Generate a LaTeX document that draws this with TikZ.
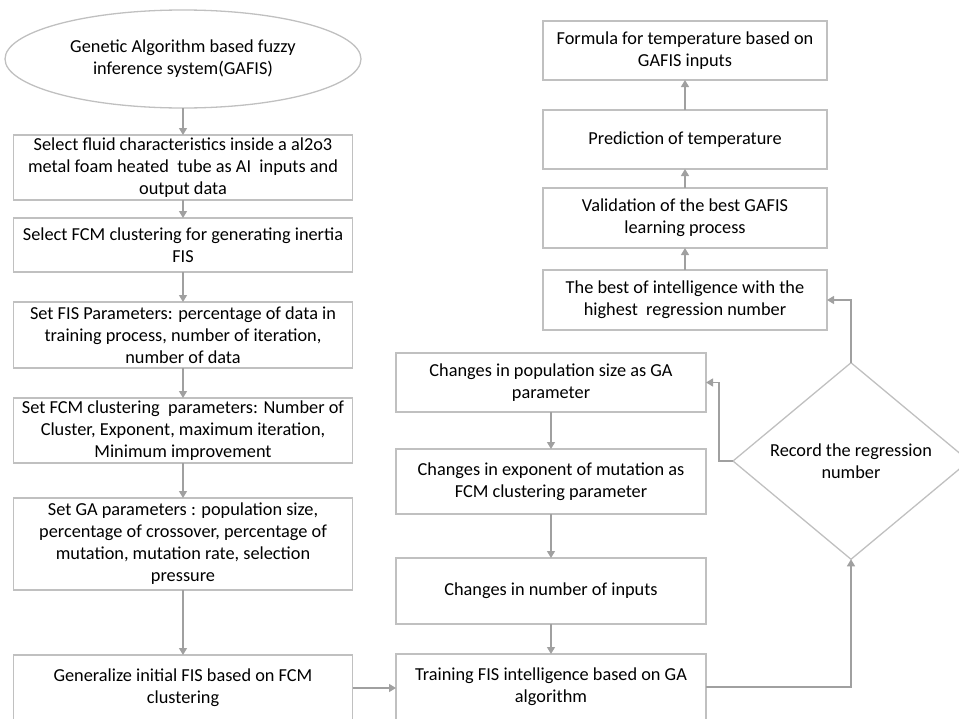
\documentclass[tikz,border=0pt]{standalone}
\usepackage{fontspec}
\setmainfont{Carlito}
\usepackage{xcolor}
\usetikzlibrary{positioning,arrows.meta,shapes.geometric}
\definecolor{boxline}{RGB}{192,192,192}
\definecolor{arrline}{RGB}{160,160,160}

\begin{document}
\begin{tikzpicture}[
  x=1pt, y=-1pt,
  font=\fontsize{18.3}{22}\selectfont,
  box/.style={draw=boxline, line width=1.3pt, align=center, inner xsep=3pt,
              inner ysep=1pt, outer sep=0pt, minimum width=#1},
  term/.style={draw=boxline, line width=1.3pt, ellipse, align=center,
               inner sep=0pt, outer sep=0pt, minimum width=356pt, minimum height=98pt},
  decide/.style={draw=boxline, line width=1.3pt, diamond, align=center,
                 inner sep=0pt, outer sep=0pt, minimum width=236pt, minimum height=166pt},
  link/.style={draw=arrline, line width=1.3pt, ->},
  >={Triangle[length=7pt,width=8pt]}
]
\useasboundingbox (0,0) rectangle (959,718);
\clip (0,0) rectangle (959,718);

\node[term] (ga) at (183,59) {Genetic Algorithm based fuzzy\\inference system(GAFIS)};
\node[box=339pt, minimum height=65pt, below=27pt of ga] (sel)
  {Select fluid characteristics inside a al2o3\\metal foam heated\ \ tube as AI\ \ inputs and\\output data};
\node[box=339pt, minimum height=54pt, below=18pt of sel] (fcm)
  {Select FCM clustering for generating inertia\\FIS};
\node[box=339pt, minimum height=66pt, below=30pt of fcm] (fis)
  {Set FIS Parameters: percentage of data in\\training process, number of iteration,\\number of data};
\node[box=339pt, minimum height=65pt, below=30pt of fis] (clu)
  {Set FCM clustering\ \ parameters: Number of\\Cluster, Exponent, maximum iteration,\\Minimum improvement};
\node[box=339pt, minimum height=92pt, below=35pt of clu] (gapar)
  {Set GA parameters : population size,\\percentage of crossover, percentage of\\mutation, mutation rate, selection\\pressure};
\node[box=339pt, minimum height=66pt, below=65pt of gapar] (gen)
  {Generalize initial FIS based on FCM\\clustering};

\node[box=310pt, minimum height=59pt] (pop) at (551,382.5)
  {Changes in population size as GA\\parameter};
\node[box=310pt, minimum height=65pt, below=37pt of pop] (expo)
  {Changes in exponent of mutation as\\FCM clustering parameter};
\node[box=310pt, minimum height=66pt, below=44pt of expo] (inp)
  {Changes in number of inputs};
\node[box=310pt, minimum height=66pt, below=30pt of inp] (train)
  {Training FIS intelligence based on GA\\algorithm};

\node[decide] (rec) at (851,461) {Record the regression\\number};

\node[box=284pt, minimum height=59pt] (form) at (685,50.5)
  {Formula for temperature based on\\GAFIS inputs};
\node[box=284pt, minimum height=59pt, below=30pt of form] (pred)
  {Prediction of temperature};
\node[box=284pt, minimum height=60pt, below=19pt of pred] (valid)
  {Validation of the best GAFIS\\learning process};
\node[box=284pt, minimum height=60pt, below=22pt of valid] (best)
  {The best of intelligence with the\\highest\ \ regression number};

\draw[link] (ga) -- (sel);
\draw[link] (sel) -- (fcm);
\draw[link] (fcm) -- (fis);
\draw[link] (fis) -- (clu);
\draw[link] (clu) -- (gapar);
\draw[link] (gapar) -- (gen);
\draw[link] (gen.east) -- (gen.east -| train.west);
\draw[link] (pop) -- (expo);
\draw[link] (expo) -- (inp);
\draw[link] (inp) -- (train);
\draw[link] (train.east) -| (rec.south);
\draw[link] (rec.north) |- (best.east);
\draw[link] (rec.west) -- ++(-14,0) |- (pop.east);
\draw[link] (best) -- (valid);
\draw[link] (valid) -- (pred);
\draw[link] (pred) -- (form);
\end{tikzpicture}
\end{document}
